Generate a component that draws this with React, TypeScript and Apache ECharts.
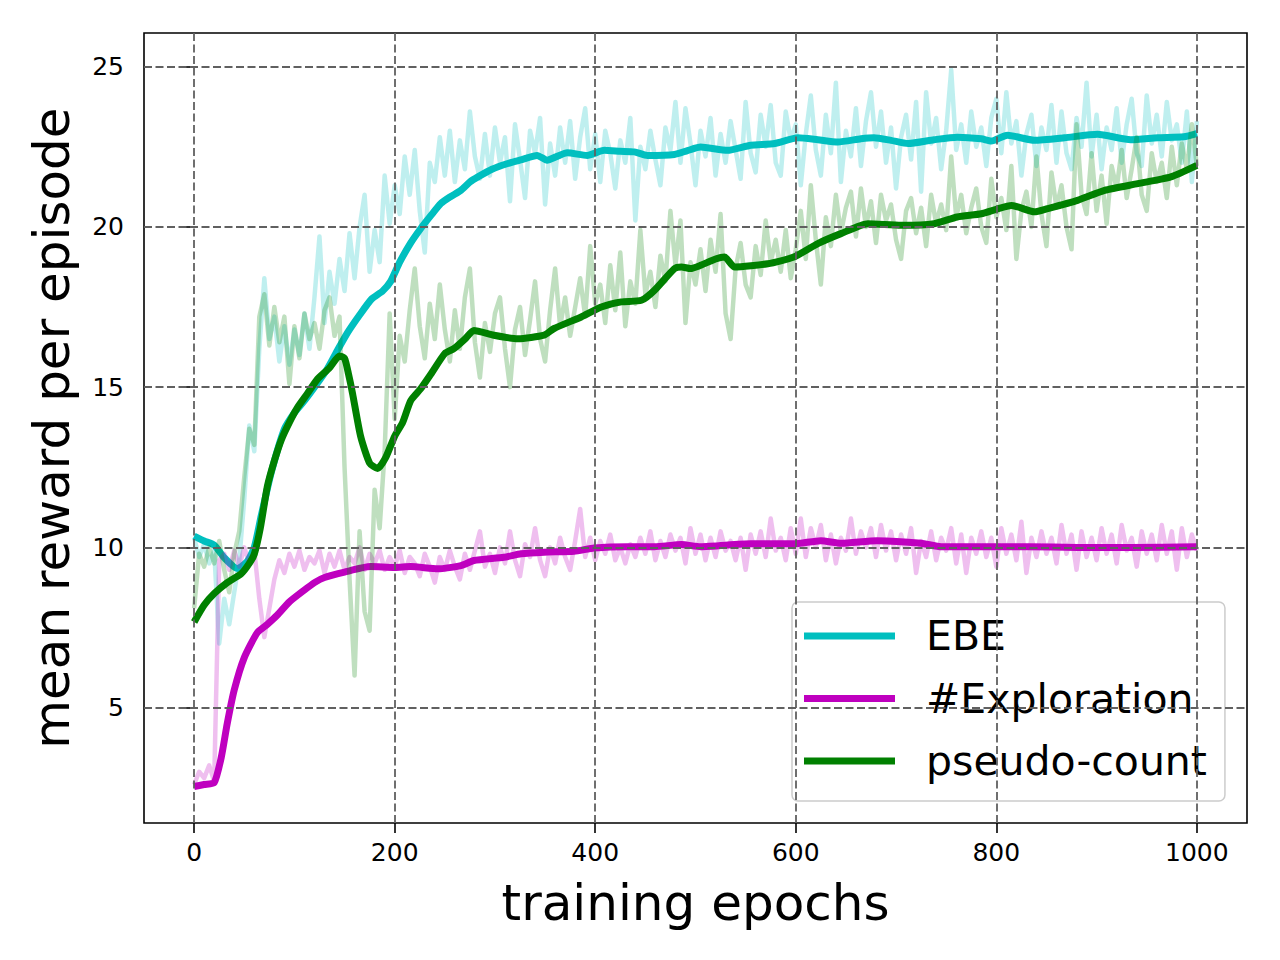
import React, { useEffect, useRef } from "react";
import * as echarts from "echarts";

// Colours of the three methods (matplotlib "c", "m", "g")
const C_EBE = "#00BFBF";
const C_EXPL = "#BF00BF";
const C_PSEUDO = "#008000";

const FONT = "DejaVu Sans";

// Axis ranges and tick labels
const X_MIN = -50;
const X_MAX = 1050;
const Y_MIN = 1.4;
const Y_MAX = 26.05;
const X_TICKS = [0, 200, 400, 600, 800, 1000];
const Y_TICKS = [5, 10, 15, 20, 25];

// Raw (per-epoch, sampled every 5 epochs) rewards
const EPOCH_STEP = 5;

const ebeRaw = [
  10.3, 9.7, 10.1, 9.5, 9.9, 7.0, 8.4, 7.6, 8.6, 9.6,
  11.5, 13.8, 13.0, 16.2, 18.4, 16.5, 17.2, 15.8, 16.9, 15.7,
  16.8, 16.0, 17.3, 16.2, 17.8, 19.7, 17.0, 18.6, 17.6, 19.0,
  18.0, 19.8, 18.4, 20.0, 21.0, 18.6, 19.9, 18.9, 21.6, 20.1,
  21.3, 20.4, 22.2, 21.0, 22.4, 20.5, 19.2, 22.0, 21.4, 22.8,
  21.6, 23.0, 21.4, 22.7, 21.8, 23.6, 22.2, 21.5, 22.9, 21.6,
  23.1, 22.0, 22.8, 20.8, 23.2, 22.1, 20.9, 23.0, 22.3, 23.4,
  20.7, 22.6, 21.6, 23.1, 22.0, 23.3, 21.5, 22.8, 23.7, 21.8,
  22.9, 21.4, 23.0, 22.3, 21.2, 22.7, 22.0, 23.4, 20.2, 22.5,
  21.8, 23.0, 22.1, 21.3, 23.1, 22.4, 23.9, 22.0, 23.7, 22.6,
  21.3, 23.0, 22.2, 23.4, 21.6, 22.9, 22.0, 23.3, 22.4, 21.5,
  23.9, 22.3, 21.7, 23.5, 22.5, 23.8, 22.0, 21.6, 23.6, 22.7,
  23.2, 21.3, 22.9, 24.1, 22.4, 21.6, 23.5, 22.3, 24.5, 21.4,
  23.0, 22.2, 23.7, 21.9, 23.3, 24.2, 22.5, 23.6, 22.0, 23.1,
  21.2, 22.8, 23.5, 22.1, 23.9, 21.1, 24.2, 22.6, 23.4, 21.8,
  23.0, 24.9, 22.4, 23.2, 22.0, 23.6, 22.5, 23.1, 21.9, 23.4,
  24.0, 22.3, 24.2, 22.6, 23.3, 21.6, 22.9, 23.5, 21.9, 23.1,
  22.4, 23.8, 22.0, 23.6, 22.3, 21.8, 23.4, 22.5, 24.5, 22.2,
  23.5, 21.8, 23.1, 22.4, 23.7, 22.0, 23.2, 24.0, 22.3, 21.9,
  24.1, 22.6, 23.5, 22.2, 23.9, 22.7, 23.2, 22.0, 23.6, 21.4,
  23.3,
];

const explRaw = [
  2.6, 3.0, 2.8, 3.2, 2.7, 9.6, 9.8, 9.3, 9.9, 9.4,
  10.0, 9.5, 9.9, 8.4, 7.2, 8.1, 9.0, 9.6, 9.2, 9.8,
  9.4, 9.9, 9.3, 9.7, 9.5, 9.9, 9.2, 9.8, 9.4, 9.9,
  9.3, 9.7, 9.5, 10.0, 9.3, 9.8, 9.5, 9.9, 9.3, 9.7,
  9.4, 9.9, 9.2, 9.7, 9.5, 9.1, 9.8, 9.4, 8.9, 9.7,
  9.3, 9.9, 9.4, 9.0, 9.8, 9.3, 9.9, 10.5, 9.4, 9.8,
  9.2, 10.0, 9.5, 10.5, 9.6, 9.1, 10.1, 9.7, 10.6, 9.6,
  9.1, 10.0, 9.5, 10.3, 9.7, 9.3, 10.2, 11.2, 9.7, 10.3,
  9.6, 10.2, 9.8, 10.4, 9.6, 10.0, 9.5, 10.1, 9.7, 10.3,
  9.8, 10.5, 9.6, 10.2, 9.7, 10.4, 9.9, 10.3, 9.5, 10.6,
  9.8, 10.4, 9.6, 10.3, 9.7, 10.5, 9.9, 10.2, 9.6, 10.3,
  9.3, 10.4, 9.8, 10.5, 9.7, 10.9, 9.9, 10.3, 9.6, 10.6,
  9.8, 10.9, 9.7, 10.6, 10.0, 10.7, 9.6, 10.4, 9.5, 10.3,
  9.9, 10.9, 9.8, 10.5, 10.0, 10.6, 9.7, 10.7, 9.9, 10.5,
  9.6, 10.4, 9.8, 10.6, 9.2, 10.2, 9.7, 10.5, 9.6, 10.3,
  9.9, 10.6, 9.5, 10.4, 9.2, 10.3, 9.8, 10.5, 9.7, 10.3,
  9.4, 10.6, 9.8, 10.4, 9.6, 10.8, 9.2, 10.3, 9.7, 10.5,
  9.8, 10.3, 9.5, 10.7, 9.8, 10.4, 9.3, 10.5, 9.7, 10.3,
  9.6, 10.6, 9.8, 10.4, 9.5, 10.7, 9.9, 10.3, 9.4, 10.5,
  9.8, 10.4, 9.6, 10.7, 9.8, 10.5, 9.3, 10.6, 9.7, 10.4,
  9.9,
];

const pseudoRaw = [
  8.1, 9.8, 9.4, 10.0, 9.5, 10.2, 9.3, 8.6, 9.8, 10.5,
  12.2, 13.7, 13.2, 17.2, 17.9, 16.3, 17.5, 16.4, 17.2, 15.1,
  16.9, 15.9, 17.3, 16.5, 17.0, 16.2, 17.4, 17.8, 16.6, 17.2,
  12.5, 9.0, 6.0, 10.5, 8.0, 7.4, 11.8, 10.6, 13.0, 17.3,
  14.0, 16.6, 15.8, 17.4, 18.7, 16.9, 15.9, 17.6, 16.5, 18.2,
  16.8, 15.8, 17.4, 16.2, 17.8, 18.7, 16.4, 15.3, 17.0, 16.1,
  17.3, 17.8, 16.2, 15.0, 16.8, 17.5, 16.0, 17.1, 18.3, 16.5,
  15.8, 17.4, 18.7, 16.9, 17.8, 16.6, 17.5, 18.4, 17.2, 19.4,
  17.6, 18.2, 17.0, 18.8, 17.4, 19.2, 16.9, 18.3, 17.6, 19.9,
  17.9, 18.6, 17.5, 19.1, 18.3, 20.5, 18.8, 20.2, 17.0, 18.9,
  18.2, 19.3, 18.0, 19.6, 18.6, 20.4, 17.3, 16.5, 18.7, 19.5,
  18.2, 17.8, 19.4, 18.5, 20.2, 18.9, 19.6, 18.6, 19.9, 18.4,
  19.3, 20.5, 19.0, 21.3, 19.6, 18.2, 20.3, 19.4, 21.0, 19.8,
  20.6, 21.1, 19.7, 21.2, 20.0, 20.8, 19.5, 21.0, 20.2, 20.7,
  19.6, 19.0, 20.5, 20.9, 19.8, 20.6, 19.4, 21.0, 20.1, 20.7,
  19.9, 22.2, 20.3, 21.0, 19.8, 20.6, 21.2, 20.0, 19.5, 21.5,
  20.3, 20.9, 19.9, 21.9, 19.0, 20.5, 21.1, 20.0, 22.2, 20.4,
  19.4, 21.7, 20.6, 21.3, 20.0, 19.3, 23.2, 21.0, 20.4, 22.3,
  20.5, 21.6, 20.1, 21.9, 21.2, 22.4, 20.9, 21.8, 22.8, 21.0,
  20.5, 22.3, 21.4, 22.0, 20.9, 22.5, 21.3, 22.6, 21.8, 23.2,
  21.9,
];

// Smoothed curves as [epoch, reward]
const ebeSmooth = [
  [0, 10.35], [10, 10.2], [20, 10.07], [30, 9.68], [43, 9.34], [53, 9.56],
  [60, 10.0], [67, 11.0], [77, 12.35], [90, 13.69], [100, 14.2], [110, 14.58],
  [120, 15.0], [133, 15.58], [143, 16.15], [153, 16.7], [165, 17.25], [177, 17.75],
  [188, 18.0], [196, 18.3], [205, 18.9], [216, 19.5], [226, 19.95], [236, 20.35],
  [246, 20.73], [256, 20.95], [266, 21.14], [275, 21.4], [283, 21.56], [297, 21.8],
  [312, 21.97], [327, 22.1], [342, 22.23], [352, 22.08], [362, 22.2], [372, 22.31],
  [392, 22.23], [409, 22.39], [425, 22.36], [439, 22.34], [452, 22.23], [479, 22.26],
  [492, 22.38], [505, 22.49], [532, 22.39], [555, 22.55], [579, 22.6], [602, 22.78],
  [622, 22.72], [642, 22.65], [665, 22.75], [678, 22.78], [695, 22.7], [712, 22.6],
  [738, 22.72], [761, 22.8], [785, 22.75], [795, 22.68], [811, 22.86], [838, 22.7],
  [868, 22.78], [901, 22.89], [934, 22.72], [961, 22.78], [987, 22.81], [1000, 22.91],
];

const explSmooth = [
  [0, 2.54], [10, 2.6], [20, 2.66], [27, 3.44], [33, 4.5], [40, 5.55], [50, 6.56],
  [63, 7.34], [73, 7.6], [83, 7.89], [95, 8.3], [110, 8.67], [120, 8.9], [130, 9.06],
  [150, 9.23], [176, 9.4], [200, 9.37], [216, 9.4], [243, 9.33], [266, 9.43],
  [279, 9.59], [309, 9.69], [326, 9.8], [349, 9.85], [379, 9.88], [399, 9.98],
  [432, 10.02], [459, 10.02], [486, 10.09], [505, 10.02], [555, 10.11], [598, 10.11],
  [625, 10.21], [645, 10.13], [681, 10.21], [725, 10.13], [745, 10.02], [785, 10.02],
  [832, 10.02], [881, 10.0], [934, 10.0], [1000, 10.02],
];

const pseudoSmooth = [
  [0, 7.67], [10, 8.2], [20, 8.56], [33, 8.9], [47, 9.18], [55, 9.5], [60, 9.79],
  [66, 10.6], [73, 11.9], [80, 12.7], [87, 13.36], [95, 13.9], [103, 14.36],
  [113, 14.8], [123, 15.25], [135, 15.6], [145, 15.97], [150, 15.9], [154, 15.4],
  [158, 14.8], [166, 13.47], [175, 12.63], [183, 12.46], [191, 12.8], [200, 13.47],
  [208, 13.9], [216, 14.58], [226, 14.95], [236, 15.4], [250, 16.05], [259, 16.2],
  [270, 16.5], [279, 16.77], [299, 16.62], [323, 16.51], [349, 16.62], [359, 16.83],
  [386, 17.19], [406, 17.5], [426, 17.66], [446, 17.71], [459, 18.02], [479, 18.7],
  [486, 18.75], [495, 18.7], [505, 18.8], [520, 19.0], [529, 19.06], [539, 18.75],
  [572, 18.85], [598, 19.06], [622, 19.48], [645, 19.79], [672, 20.1], [705, 20.05],
  [738, 20.1], [761, 20.31], [785, 20.41], [800, 20.55], [815, 20.67], [838, 20.47],
  [851, 20.57], [881, 20.83], [908, 21.14], [941, 21.35], [974, 21.56], [1000, 21.92],
];

const toPairs = (vals: number[]) => vals.map((v, i) => [i * EPOCH_STEP, v]);

function rawSeries(name: string, color: string, vals: number[]) {
  return {
    name,
    type: "line",
    data: toPairs(vals),
    symbol: "none",
    showSymbol: false,
    silent: true,
    z: 2,
    itemStyle: { color },
    lineStyle: { color, width: 4.5, opacity: 0.25, join: "round" },
    emphasis: { disabled: true },
  };
}

function smoothSeries(name: string, color: string, data: number[][]) {
  return {
    name,
    type: "line",
    data,
    symbol: "none",
    showSymbol: false,
    smooth: 0.2,
    z: 2,
    itemStyle: { color },
    lineStyle: { color, width: 7, join: "round" },
    emphasis: { disabled: true },
  };
}

export default function App() {
  const ref = useRef<HTMLDivElement>(null);

  useEffect(() => {
    if (!ref.current) return;
    const chart = echarts.init(ref.current, undefined, { renderer: "svg" });

    const gridStyle = { color: "#606060", width: 1.8, type: [8, 3.5] };

    const option = {
      animation: false,
      backgroundColor: "#ffffff",
      textStyle: { fontFamily: FONT },
      grid: {
        left: 144,
        top: 33,
        right: 33,
        bottom: 137,
        show: true,
        borderColor: "#000000",
        borderWidth: 1.6,
        backgroundColor: "transparent",
      },
      xAxis: {
        type: "value",
        min: X_MIN,
        max: X_MAX,
        axisLine: { show: false },
        splitLine: { show: false },
        axisTick: {
          show: true,
          inside: false,
          length: 10,
          customValues: X_TICKS,
          lineStyle: { color: "#000000", width: 1.6 },
        },
        axisLabel: {
          customValues: X_TICKS,
          formatter: (v: number) => String(v),
          fontSize: 25,
          color: "#000000",
          margin: 17,
          fontFamily: FONT,
        },
        name: "training epochs",
        nameLocation: "middle",
        nameGap: 55,
        nameTextStyle: { fontSize: 50, color: "#000000", fontFamily: FONT },
      },
      yAxis: {
        type: "value",
        min: Y_MIN,
        max: Y_MAX,
        axisLine: { show: false },
        splitLine: { show: false },
        axisTick: {
          show: true,
          inside: false,
          length: 10,
          customValues: Y_TICKS,
          lineStyle: { color: "#000000", width: 1.6 },
        },
        axisLabel: {
          customValues: Y_TICKS,
          formatter: (v: number) => String(v),
          fontSize: 25,
          color: "#000000",
          margin: 20,
          fontFamily: FONT,
        },
        name: "mean reward per episode",
        nameLocation: "middle",
        nameGap: 67,
        nameRotate: 90,
        nameTextStyle: { fontSize: 50, color: "#000000", fontFamily: FONT },
      },
      legend: {
        data: ["EBE", "#Exploration", "pseudo-count"],
        orient: "vertical",
        left: 792,
        top: 602,
        icon: "rect",
        itemWidth: 91,
        itemHeight: 7,
        itemGap: 12.5,
        padding: [9, 18, 15, 12],
        selectedMode: false,
        backgroundColor: "rgba(255,255,255,0.8)",
        borderColor: "#cccccc",
        borderWidth: 1.5,
        borderRadius: 6,
        textStyle: {
          fontSize: 41,
          lineHeight: 50,
          color: "#000000",
          fontFamily: FONT,
          padding: [0, 0, 0, 26],
        },
      },
      series: [
        {
          name: "grid",
          type: "line",
          data: [],
          z: 1,
          silent: true,
          markLine: {
            silent: true,
            symbol: ["none", "none"],
            label: { show: false },
            emphasis: { disabled: true },
            lineStyle: gridStyle,
            data: [
              ...X_TICKS.map((v) => ({ xAxis: v })),
              ...Y_TICKS.map((v) => ({ yAxis: v })),
            ],
          },
        },
        rawSeries("EBE raw", C_EBE, ebeRaw),
        smoothSeries("EBE", C_EBE, ebeSmooth),
        rawSeries("#Exploration raw", C_EXPL, explRaw),
        smoothSeries("#Exploration", C_EXPL, explSmooth),
        rawSeries("pseudo-count raw", C_PSEUDO, pseudoRaw),
        smoothSeries("pseudo-count", C_PSEUDO, pseudoSmooth),
      ],
    };

    chart.setOption(option as any);
    return () => chart.dispose();
  }, []);

  return (
    <div
      ref={ref}
      style={{ position: "absolute", left: 0, top: 0, width: 1280, height: 960 }}
    />
  );
}
